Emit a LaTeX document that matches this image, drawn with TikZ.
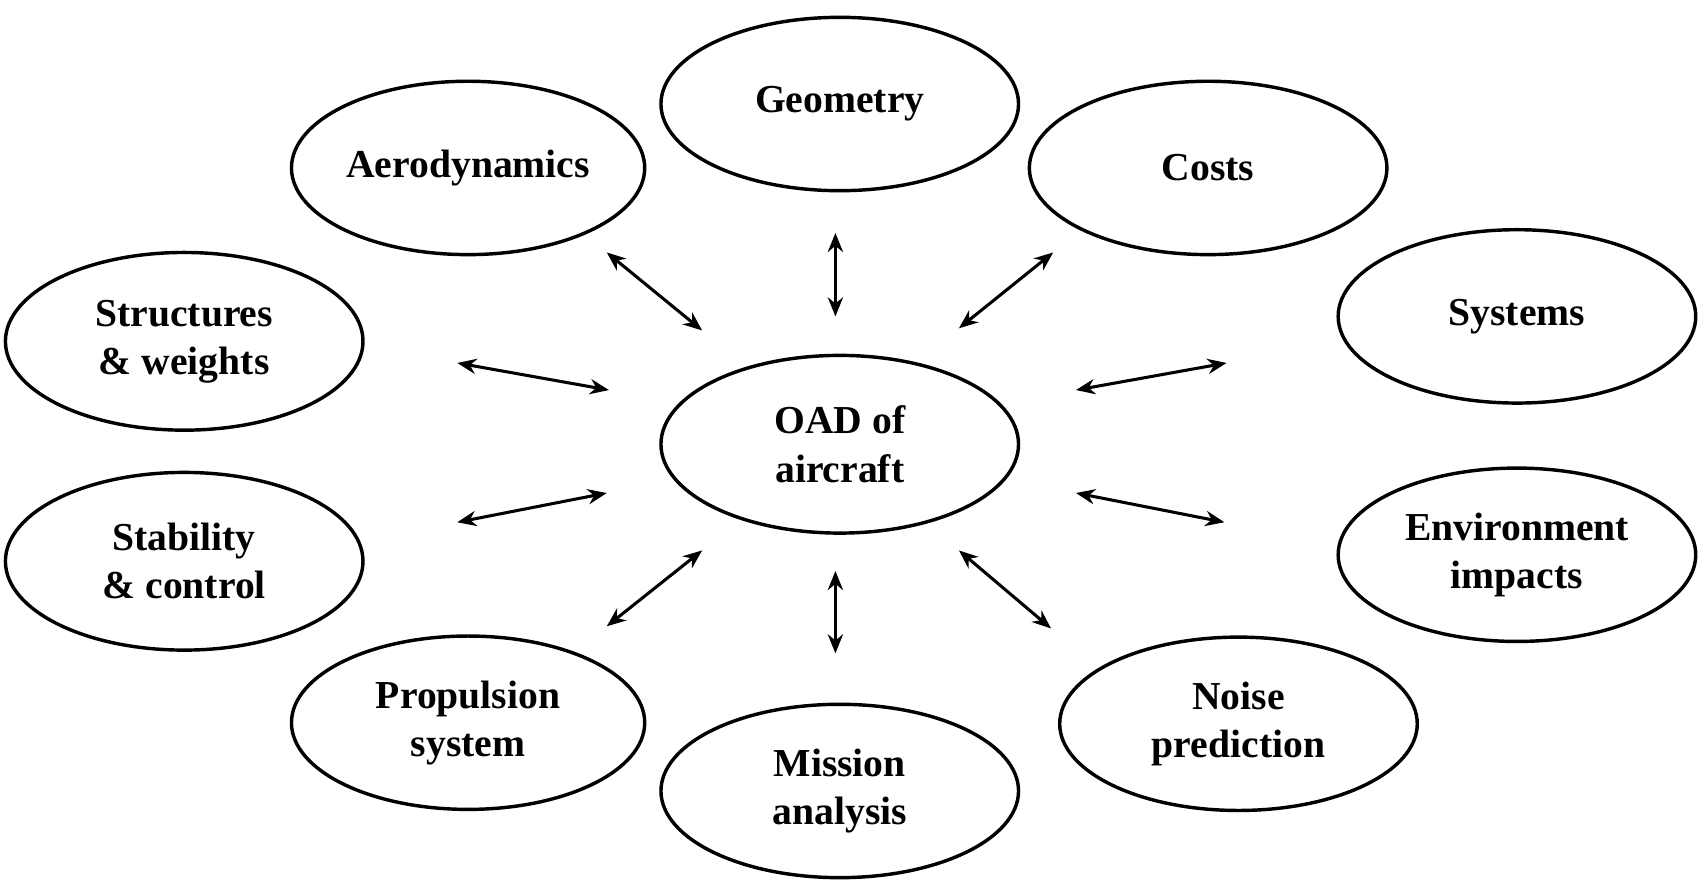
\documentclass[tikz,border=0pt]{standalone}
\usepackage{fontspec}
\setmainfont{Liberation Serif}
\begin{document}
\begin{tikzpicture}[x=0.01cm,y=-0.01cm,
  el/.style={draw,line width=0.9pt,ellipse},
  lbl/.style={font=\bfseries\fontsize{10.4}{12.6}\selectfont,align=center},
  arr/.style={<->,>={Stealth[length=5pt,width=4pt]},line width=0.8pt}]
\usetikzlibrary{arrows.meta}
\useasboundingbox (0,0) rectangle (1568,816);
\foreach \n/\x/\y/\rx/\ry/\t in {
 geo/775/96/165/80/{Geometry},
 aero/432/155/163/80/{Aerodynamics},
 cost/1115/155/165/80/{Costs},
 str/170/315/165/82/{Structures\\\& weights},
 sys/1400/292/165/80/{Systems},
 oad/775/410/165/82/{OAD of\\aircraft},
 stab/170/518/165/82/{Stability\\\& control},
 env/1400/512/165/80/{Environment\\impacts},
 prop/432/667/163/80/{Propulsion\\system},
 mis/775/730/165/80/{Mission\\analysis},
 noise/1143/668/165/80/{Noise\\prediction}}{
 \draw[line width=0.9pt] (\x,\y) ellipse [x radius=\rx, y radius=\ry];
 \node[lbl] (\n) at (\x,\y) {\t};
}
\foreach \i/\ax/\ay/\bx/\by in {
 1/560/233/648/305, 2/771/215/771/292, 3/972/233/885/303,
 4/422/335/562/360, 5/993/360/1132/335, 6/422/482/560/455,
 7/993/455/1130/482, 8/560/578/648/508, 9/771/527/771/603,
 10/885/508/970/580}{
 \coordinate (a\i) at (\ax,\ay);
 \coordinate (b\i) at (\bx,\by);
 \draw[arr] (a\i) -- (b\i);
}
\end{tikzpicture}
\end{document}
